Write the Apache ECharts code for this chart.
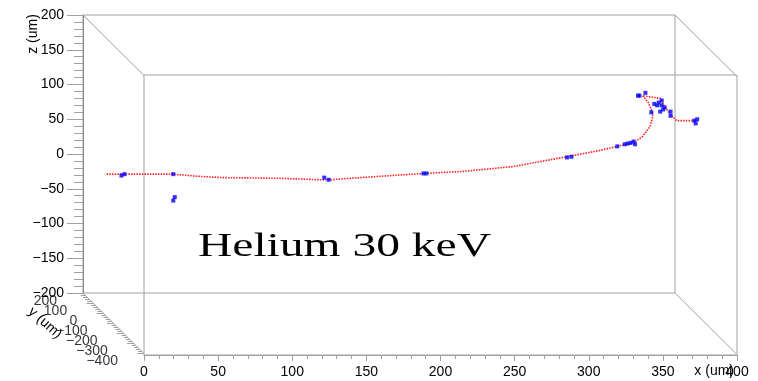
<!DOCTYPE html>
<html>
<head>
<meta charset="utf-8">
<script src="https://cdn.jsdelivr.net/npm/echarts@6/dist/echarts.min.js"></script>
<style>
html, body { margin: 0; padding: 0; background: #fff; }
#chart { width: 758px; height: 381px; }
</style>
</head>
<body>
<div id="chart"></div>
<script>
// track (um); depth y cannot be read, kept on the back plane
const TRACK_Y = 200;
const trackX = [16, 43, 61, 77, 95, 133, 160, 167, 187, 230, 257, 291, 324, 349, 361, 372, 378, 383, 385, 384.5, 382, 378, 390, 393, 397, 401, 415];
const trackZ = [-29, -29, -29, -32, -34, -35, -37, -37, -34, -28, -25, -18, -5, 5, 11, 16, 25, 39, 54, 61, 74, 84, 80, 68, 57, 48, 48];
const hitX = [26, 28, 61, 61, 62, 163, 166, 230, 232, 327, 330, 361, 366, 368, 370, 372, 373, 375, 376, 380, 384, 386, 388, 389, 391, 391, 392, 393, 390, 397, 397, 413, 415, 414];
const hitZ = [-31, -29, -29, -67, -62, -34, -37, -28, -28, -5, -4, 11, 14, 15, 16, 18, 14, 84, 84, 88, 60, 72, 70, 74, 77, 70, 64, 67, 61, 55, 61, 48, 50, 44];
const yTickLabels = [200, 100, 0, -100, -200, -300, -400];

const GREY = '#a0a0a0';
const FONT = '"Liberation Sans", Arial, sans-serif';

// oblique view of the box: depth y shifts a point right/down in back-plane units
function proj(x, y, z) {
    const d = (200 - y) / 600;
    return [x + d * 41.2, z - d * 87];
}
const minus = v => String(v).replace('-', '\u2212');

const myEcharts = echarts.init(document.getElementById('chart'));

const edges = [[0, 200], [400, 200], [400, -200], [0, -200]].map(c => ({
    coords: [proj(c[0], 200, c[1]), proj(c[0], -400, c[1])]
}));
// ticks on the depth axis
const yTicks = [];
for (let y = 200; y >= -400; y -= 20) {
    const p = proj(0, y, -200);
    const len = y % 100 === 0 ? 4.5 : 2.7;
    yTicks.push({ coords: [p, [p[0] - len, p[1]]] });
}

const option = {
    animation: false,
    grid: [
        { left: 83, top: 15, width: 592, height: 278, show: true, borderColor: GREY, borderWidth: 1, outerBoundsMode: 'none' },
        { left: 144, top: 75, width: 593, height: 280, show: true, borderColor: GREY, borderWidth: 1, outerBoundsMode: 'none' }
    ],
    xAxis: [
        { gridIndex: 0, type: 'value', min: 0, max: 400, show: false },
        {
            gridIndex: 1, type: 'value', min: 0, max: 400, interval: 50,
            axisLine: { show: true, onZero: false, lineStyle: { color: GREY } },
            axisTick: { show: true, length: 6, lineStyle: { color: GREY } },
            minorTick: { show: true, splitNumber: 5, length: 4, lineStyle: { color: GREY } },
            splitLine: { show: false },
            axisLabel: { color: '#000', fontSize: 14, fontFamily: FONT, margin: 10 }
        }
    ],
    yAxis: [
        {
            gridIndex: 0, type: 'value', min: -200, max: 200, interval: 50,
            axisLine: { show: true, onZero: false, lineStyle: { color: '#888' } },
            axisTick: { show: true, length: 16, lineStyle: { color: GREY } },
            minorTick: { show: true, splitNumber: 5, length: 9, lineStyle: { color: GREY } },
            splitLine: { show: false },
            axisLabel: { color: '#000', fontSize: 14, fontFamily: FONT, margin: 19, formatter: minus }
        },
        { gridIndex: 1, type: 'value', min: -200, max: 200, show: false }
    ],
    series: [
        {
            type: 'lines', coordinateSystem: 'cartesian2d', xAxisIndex: 0, yAxisIndex: 0,
            clip: false, silent: true,
            lineStyle: { color: GREY, width: 1, opacity: 1 },
            data: edges.concat(yTicks)
        },
        {
            type: 'scatter', xAxisIndex: 0, yAxisIndex: 0, clip: false, silent: true,
            symbolSize: 0,
            label: {
                show: true, position: 'left', distance: 26, offset: [0, 8],
                formatter: p => minus(p.name), color: '#000', fontSize: 14, fontFamily: FONT
            },
            data: yTickLabels.map(y => ({ name: String(y), value: proj(0, y, -200) }))
        },
        {
            // track as one polyline so it is not cut at the back plane edge
            type: 'lines', coordinateSystem: 'cartesian2d', xAxisIndex: 0, yAxisIndex: 0,
            polyline: true, clip: false,
            lineStyle: { color: '#ff2020', width: 1.6, opacity: 1, type: [1.5, 1.2] },
            data: [{ coords: trackX.map((x, i) => proj(x, TRACK_Y, trackZ[i])) }]
        },
        {
            type: 'scatter', xAxisIndex: 0, yAxisIndex: 0, clip: false,
            symbol: 'rect', symbolSize: 4,
            itemStyle: { color: '#0000ff' },
            data: hitX.map((x, i) => proj(x, TRACK_Y, hitZ[i]))
        }
    ],
    graphic: [
        {
            type: 'text', x: 33, y: 34, rotation: Math.PI / 2,
            style: { text: 'z (um)', font: '14px ' + FONT, fill: '#000', align: 'center', verticalAlign: 'middle', textAlign: 'center', textVerticalAlign: 'middle' }
        },
        {
            type: 'text', x: 45, y: 323, rotation: -0.72,
            style: { text: 'y (um)', font: '14px ' + FONT, fill: '#000', align: 'center', verticalAlign: 'middle', textAlign: 'center', textVerticalAlign: 'middle' }
        },
        {
            type: 'text', x: 734, y: 371,
            style: { text: 'x (um)', font: '14px ' + FONT, fill: '#000', align: 'right', verticalAlign: 'middle', textAlign: 'right', textVerticalAlign: 'middle' }
        },
        {
            type: 'text', x: 198, y: 247, scaleX: 1.44,
            style: { text: 'Helium 30 keV', font: '33px "Liberation Serif", serif', fill: '#000', align: 'left', verticalAlign: 'middle', textAlign: 'left', textVerticalAlign: 'middle' }
        }
    ]
};
myEcharts.setOption(option);
</script>
</body>
</html>
